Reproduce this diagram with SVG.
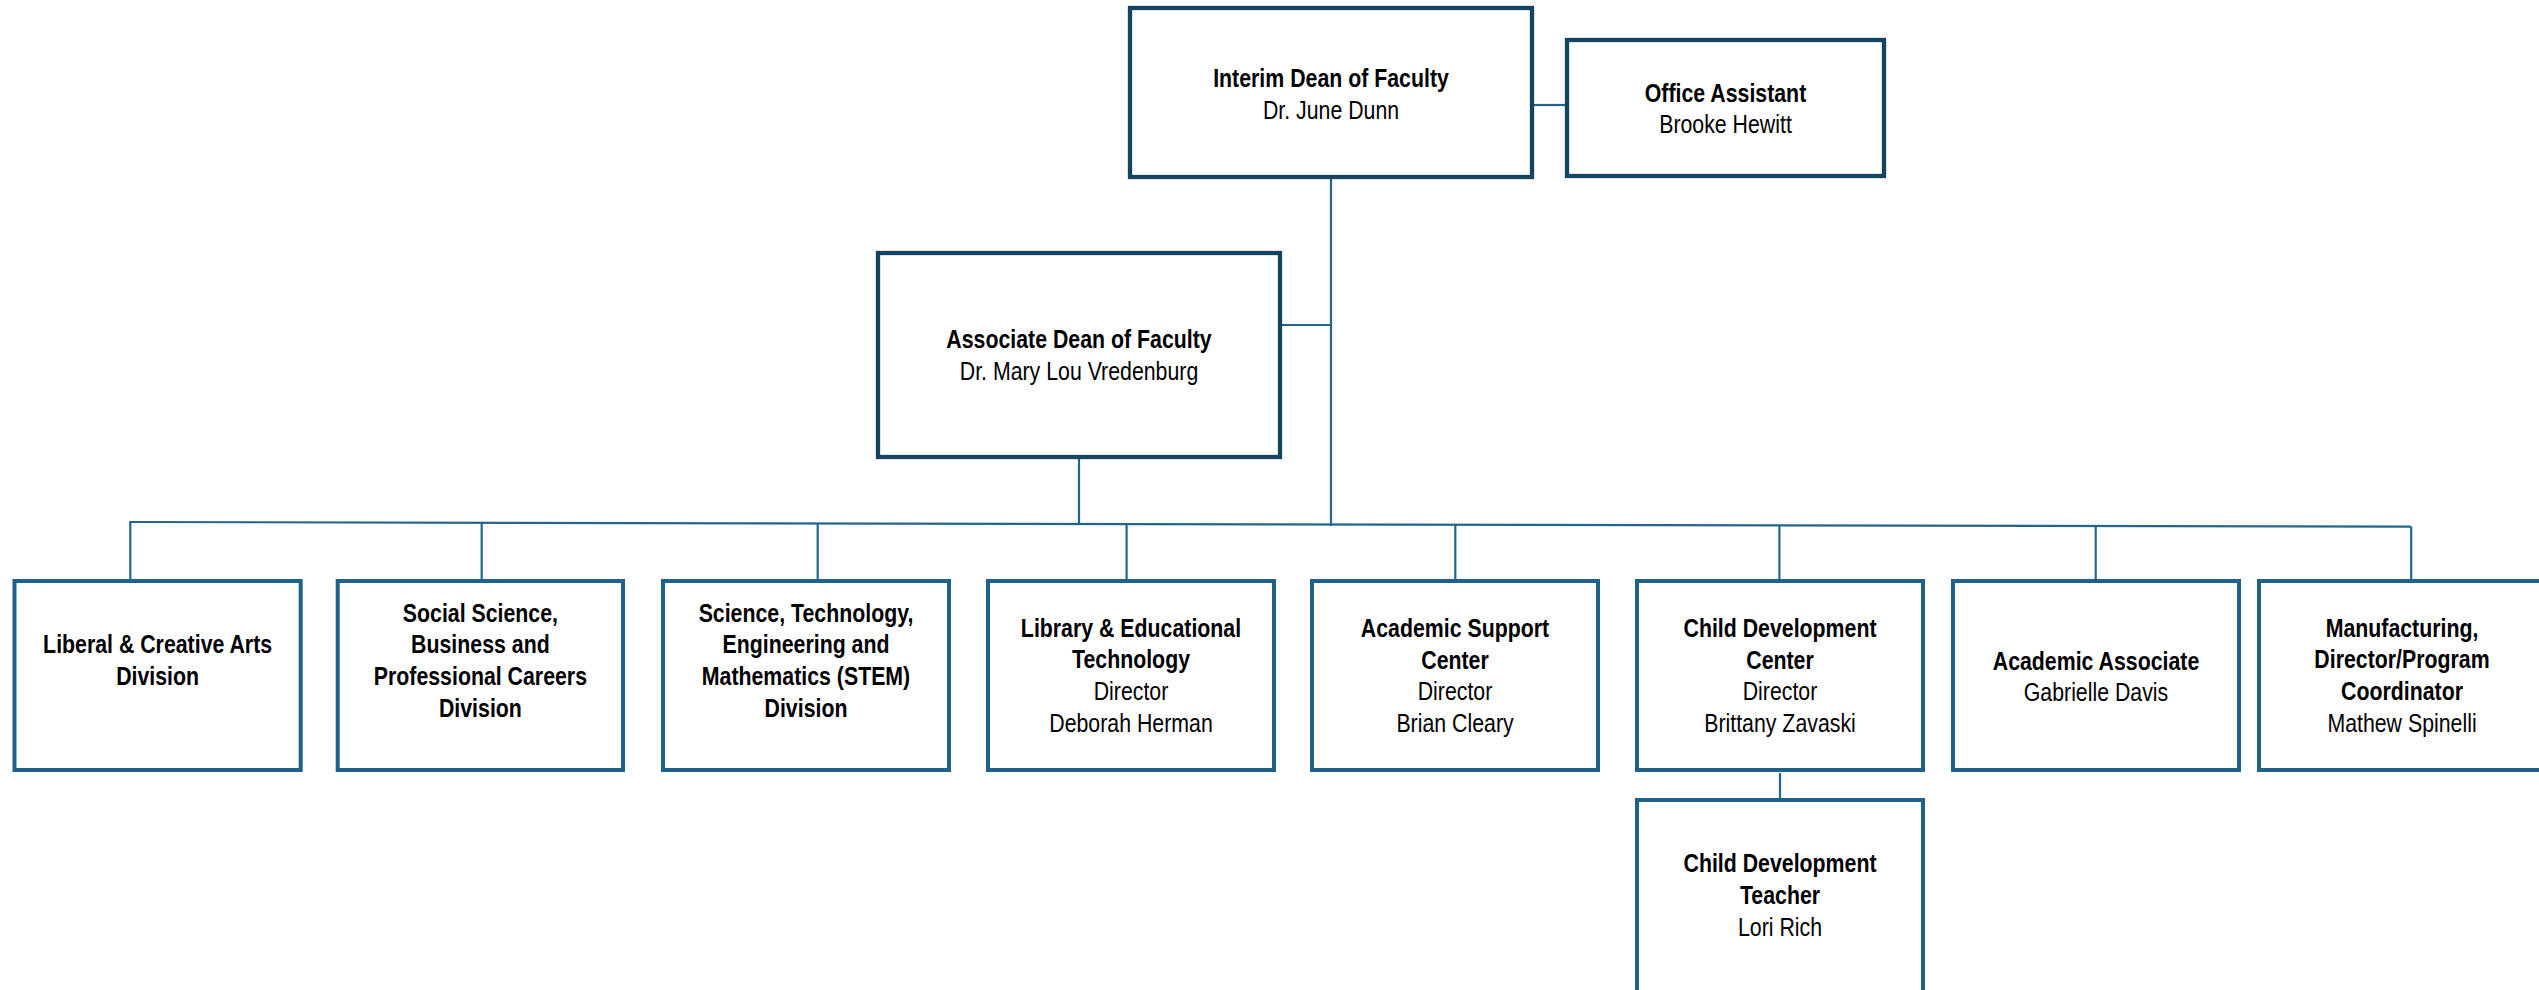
<svg xmlns="http://www.w3.org/2000/svg" width="2539" height="990" viewBox="0 0 2539 990">
<style>
.bg{fill:#ffffff}
.top{fill:#ffffff;stroke:#14445f;stroke-width:4.3}
.box{fill:#ffffff;stroke:#1e6289;stroke-width:4}
.con{fill:none;stroke:#23668d;stroke-width:2.2}
text{font-family:"Liberation Sans",Arial,sans-serif;font-size:26px;fill:#000;text-anchor:middle}
.b{font-weight:bold}
</style>
<rect class="bg" x="0" y="0" width="2539" height="990"/>
<g id="connectors">
<path class="con" d="M1534,105 H1565"/>
<path class="con" d="M1331,179 V526"/>
<path class="con" d="M1282,325 H1331"/>
<path class="con" d="M1079,459 V523"/>
<path class="con" d="M129.3,522 L2411,526.7"/>
<path class="con" d="M130.3,522 V579"/>
<path class="con" d="M481.7,522.7 V579"/>
<path class="con" d="M817.7,523.5 V579"/>
<path class="con" d="M1126.6,524 V579"/>
<path class="con" d="M1455.3,524.7 V579"/>
<path class="con" d="M1779.4,525.4 V579"/>
<path class="con" d="M2095.7,526 V579"/>
<path class="con" d="M2411.2,526.7 V579"/>
<path class="con" d="M1780,773 V798"/>
</g>
<g id="interim">
<rect class="top" x="1130" y="8" width="402" height="169"/>
<text transform="matrix(0.82 0 0 1 1331 0)"><tspan class="b" x="0" y="87">Interim Dean of Faculty</tspan><tspan x="0" y="119">Dr. June Dunn</tspan></text>
</g>
<g id="office">
<rect class="top" x="1567" y="40" width="317" height="136"/>
<text transform="matrix(0.82 0 0 1 1725.5 0)"><tspan class="b" x="0" y="102">Office Assistant</tspan><tspan x="0" y="133">Brooke Hewitt</tspan></text>
</g>
<g id="associate">
<rect class="top" x="878" y="253" width="402" height="204"/>
<text transform="matrix(0.82 0 0 1 1079 0)"><tspan class="b" x="0" y="348">Associate Dean of Faculty</tspan><tspan x="0" y="380">Dr. Mary Lou Vredenburg</tspan></text>
</g>
<g id="liberal">
<rect class="box" x="14.5" y="581" width="286.2" height="189"/>
<text transform="matrix(0.82 0 0 1 157.6 0)" class="b"><tspan x="0" y="653">Liberal &amp; Creative Arts</tspan><tspan x="0" y="685">Division</tspan></text>
</g>
<g id="social">
<rect class="box" x="337.7" y="581" width="285.3" height="189"/>
<text transform="matrix(0.82 0 0 1 480.4 0)" class="b"><tspan x="0" y="622">Social Science,</tspan><tspan x="0" y="653">Business and</tspan><tspan x="0" y="685">Professional Careers</tspan><tspan x="0" y="717">Division</tspan></text>
</g>
<g id="stem">
<rect class="box" x="663" y="581" width="286" height="189"/>
<text transform="matrix(0.82 0 0 1 806 0)" class="b"><tspan x="0" y="622">Science, Technology,</tspan><tspan x="0" y="653">Engineering and</tspan><tspan x="0" y="685">Mathematics (STEM)</tspan><tspan x="0" y="717">Division</tspan></text>
</g>
<g id="library">
<rect class="box" x="988" y="581" width="286" height="189"/>
<text transform="matrix(0.82 0 0 1 1131 0)"><tspan class="b" x="0" y="637">Library &amp; Educational</tspan><tspan class="b" x="0" y="668">Technology</tspan><tspan x="0" y="700">Director</tspan><tspan x="0" y="732">Deborah Herman</tspan></text>
</g>
<g id="academic-support">
<rect class="box" x="1312" y="581" width="286" height="189"/>
<text transform="matrix(0.82 0 0 1 1455 0)"><tspan class="b" x="0" y="637">Academic Support</tspan><tspan class="b" x="0" y="669">Center</tspan><tspan x="0" y="700">Director</tspan><tspan x="0" y="732">Brian Cleary</tspan></text>
</g>
<g id="child-dev-center">
<rect class="box" x="1637" y="581" width="286" height="189"/>
<text transform="matrix(0.82 0 0 1 1780 0)"><tspan class="b" x="0" y="637">Child Development</tspan><tspan class="b" x="0" y="669">Center</tspan><tspan x="0" y="700">Director</tspan><tspan x="0" y="732">Brittany Zavaski</tspan></text>
</g>
<g id="academic-associate">
<rect class="box" x="1953" y="581" width="286" height="189"/>
<text transform="matrix(0.82 0 0 1 2096 0)"><tspan class="b" x="0" y="670">Academic Associate</tspan><tspan x="0" y="701">Gabrielle Davis</tspan></text>
</g>
<g id="manufacturing">
<rect class="box" x="2259" y="581" width="286" height="189"/>
<text transform="matrix(0.82 0 0 1 2402 0)"><tspan class="b" x="0" y="637">Manufacturing,</tspan><tspan class="b" x="0" y="668">Director/Program</tspan><tspan class="b" x="0" y="700">Coordinator</tspan><tspan x="0" y="732">Mathew Spinelli</tspan></text>
</g>
<g id="child-dev-teacher">
<rect class="box" x="1637" y="800" width="286" height="260"/>
<text transform="matrix(0.82 0 0 1 1780 0)"><tspan class="b" x="0" y="872">Child Development</tspan><tspan class="b" x="0" y="904">Teacher</tspan><tspan x="0" y="936">Lori Rich</tspan></text>
</g>
</svg>
